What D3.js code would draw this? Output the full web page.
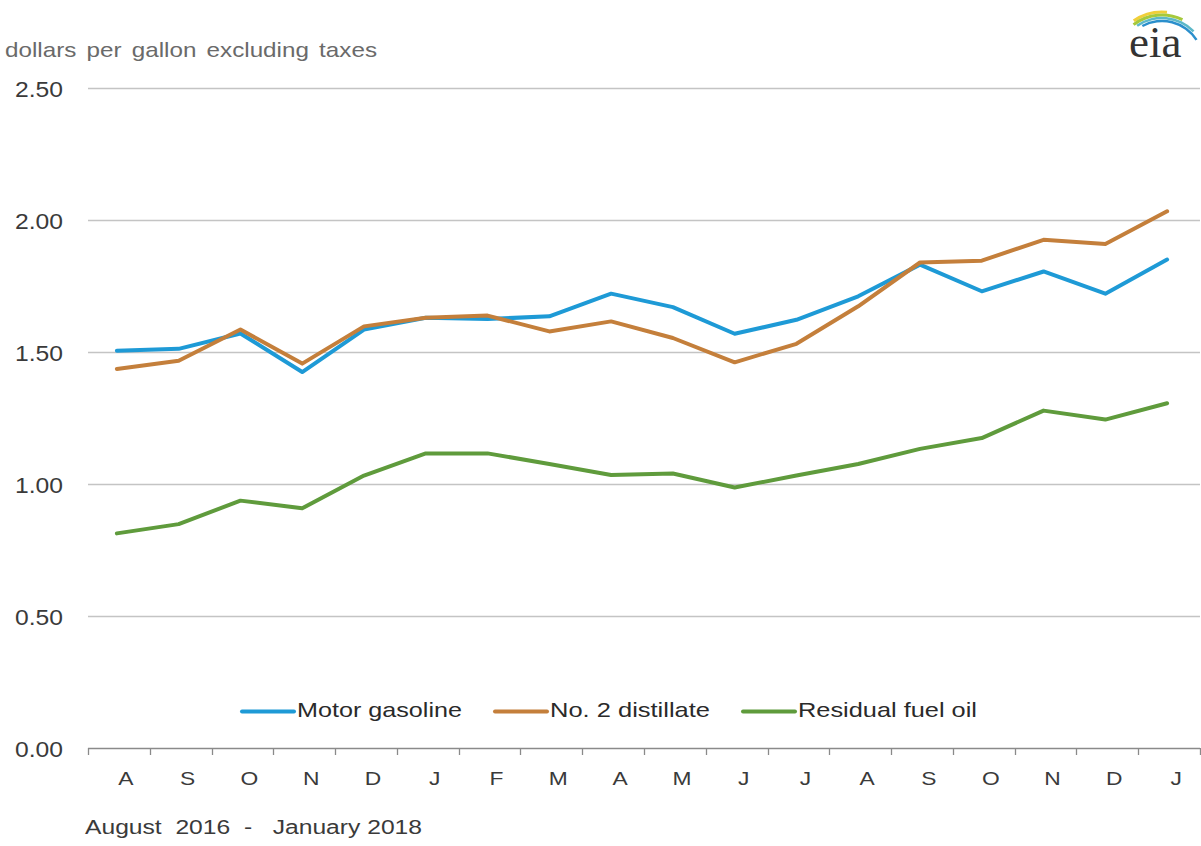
<!DOCTYPE html>
<html>
<head>
<meta charset="utf-8">
<script src="https://cdn.jsdelivr.net/npm/d3@7"></script>
<style>
  body { margin: 0; background: #fff; }
  text { font-family: "Liberation Sans", Arial, sans-serif; }
</style>
</head>
<body>
<div id="chart"></div>
<script>
// Month labels, August 2016 - January 2018
const months = ['A', 'S', 'O', 'N', 'D', 'J', 'F', 'M', 'A', 'M', 'J', 'J', 'A', 'S', 'O', 'N', 'D', 'J'];

// Series values (dollars per gallon excluding taxes)
const gasoline = [1.505, 1.512, 1.57, 1.424, 1.585, 1.63, 1.625, 1.635, 1.721, 1.67, 1.569, 1.622, 1.711, 1.831, 1.73, 1.805, 1.721, 1.85];
const distillate = [1.436, 1.467, 1.585, 1.456, 1.597, 1.63, 1.638, 1.578, 1.616, 1.553, 1.461, 1.531, 1.673, 1.839, 1.846, 1.925, 1.909, 2.033];
const residual = [0.813, 0.848, 0.937, 0.908, 1.032, 1.116, 1.116, 1.076, 1.034, 1.04, 0.987, 1.032, 1.076, 1.133, 1.174, 1.278, 1.244, 1.306];

const seriesNames = ['Motor gasoline', 'No. 2 distillate', 'Residual fuel oil'];
const yTicks = [0, 0.5, 1.0, 1.5, 2.0, 2.5];

const colours = ['#1e9ad6', '#c47f3b', '#5f9b3c'];

const width = 1201;
const height = 846;
const margin = { left: 88, right: 1, top: 88, bottom: 98 };

// The original picture is stretched sideways a bit, so widen text to match
function stretch(sel, factor) {
  sel.each(function () {
    const w = this.getComputedTextLength();
    d3.select(this)
      .attr('textLength', w * factor)
      .attr('lengthAdjust', 'spacingAndGlyphs');
  });
}

const svg = d3.select('#chart')
  .append('svg')
  .attr('width', width)
  .attr('height', height);

const x = d3.scaleBand()
  .domain(d3.range(months.length))
  .range([margin.left, 1200]);

const y = d3.scaleLinear()
  .domain([0, 2.5])
  .range([height - margin.bottom, margin.top]);

// Gridlines
svg.append('g')
  .selectAll('line')
  .data(yTicks.filter((d) => d > 0))
  .enter()
  .append('line')
  .attr('x1', margin.left)
  .attr('x2', 1200)
  .attr('y1', (d) => Math.round(y(d)) + 0.5)
  .attr('y2', (d) => Math.round(y(d)) + 0.5)
  .attr('stroke', '#c4c4c4')
  .attr('stroke-width', 1.3);

// Y tick labels
svg.append('g')
  .selectAll('text')
  .data(yTicks)
  .enter()
  .append('text')
  .attr('x', 63)
  .attr('y', (d) => y(d) + 9)
  .attr('text-anchor', 'end')
  .attr('font-size', '22px')
  .attr('fill', '#3a3a3a')
  .text((d) => d.toFixed(2))
  .attr('textLength', 48)
  .attr('lengthAdjust', 'spacingAndGlyphs');

// X axis line with ticks at band edges
const xAxis = svg.append('g');
xAxis.append('line')
  .attr('x1', margin.left)
  .attr('x2', 1200)
  .attr('y1', Math.round(y(0)) + 0.5)
  .attr('y2', Math.round(y(0)) + 0.5)
  .attr('stroke', '#8a8a8a')
  .attr('stroke-width', 1.3);

xAxis.selectAll('.tick')
  .data(d3.range(months.length + 1))
  .enter()
  .append('line')
  .attr('class', 'tick')
  .attr('x1', (i) => Math.round(margin.left + i * x.step()) + 0.5)
  .attr('x2', (i) => Math.round(margin.left + i * x.step()) + 0.5)
  .attr('y1', Math.round(y(0)))
  .attr('y2', Math.round(y(0)) + 7)
  .attr('stroke', '#8a8a8a')
  .attr('stroke-width', 1.3);

xAxis.selectAll('.month')
  .data(months)
  .enter()
  .append('text')
  .attr('class', 'month')
  .attr('x', (d, i) => x(i) + x.bandwidth() / 2 + 7)
  .attr('y', 785)
  .attr('text-anchor', 'middle')
  .attr('font-size', '19px')
  .attr('fill', '#3a3a3a')
  .text((d) => d)
  .call(stretch, 1.2);

// Lines
const line = d3.line()
  .x((d, i) => x(i) + x.bandwidth() / 2 - 2)
  .y((d) => y(d));

[gasoline, distillate, residual].forEach((values, k) => {
  svg.append('path')
    .datum(values)
    .attr('fill', 'none')
    .attr('stroke', colours[k])
    .attr('stroke-width', 4)
    .attr('stroke-linejoin', 'round')
    .attr('stroke-linecap', 'round')
    .attr('d', line);
});

// Legend
const legendX = [242, 495, 743];
const legendTextWidth = [165, 160, 179];
const legend = svg.append('g');
seriesNames.forEach((name, k) => {
  legend.append('line')
    .attr('x1', legendX[k])
    .attr('x2', legendX[k] + 52)
    .attr('y1', 711.5)
    .attr('y2', 711.5)
    .attr('stroke', colours[k])
    .attr('stroke-width', 4)
    .attr('stroke-linecap', 'round');
  legend.append('text')
    .attr('x', legendX[k] + 55)
    .attr('y', 717)
    .attr('font-size', '21px')
    .attr('fill', '#2a2a2a')
    .attr('textLength', legendTextWidth[k])
    .attr('lengthAdjust', 'spacingAndGlyphs')
    .text(name);
});

// Titles
svg.append('text')
  .attr('x', 5)
  .attr('y', 57)
  .attr('font-size', '21px')
  .attr('fill', '#6a6a6a')
  .attr('word-spacing', '3px')
  .attr('textLength', 372)
  .attr('lengthAdjust', 'spacingAndGlyphs')
  .text('dollars per gallon excluding taxes');

svg.append('text')
  .attr('x', 85)
  .attr('y', 834)
  .attr('font-size', '20px')
  .attr('fill', '#3a3a3a')
  .attr('xml:space', 'preserve')
  .attr('textLength', 337)
  .attr('lengthAdjust', 'spacingAndGlyphs')
  .text('August  2016  -   January 2018');

// eia logo: swoosh arcs above the letters
const logo = svg.append('g');
const arcs = [
  { r: 50, c: '#f0cf3a', w: 3, a0: -0.6, a1: 0.1 },
  { r: 47, c: '#a6c93c', w: 3, a0: -0.65, a1: 0.45 },
  { r: 44, c: '#5db8c8', w: 2.5, a0: -0.6, a1: 0.8 },
  { r: 41, c: '#2b8fcc', w: 2.5, a0: -0.5, a1: 1.0 },
];
arcs.forEach((a) => {
  const arc = d3.arc()
    .innerRadius(a.r - a.w / 2)
    .outerRadius(a.r + a.w / 2)
    .startAngle(a.a0)
    .endAngle(a.a1);
  logo.append('path')
    .attr('transform', 'translate(1162,62)')
    .attr('d', arc)
    .attr('fill', a.c);
});
logo.append('text')
  .attr('x', 1129)
  .attr('y', 57)
  .style('font-family', '"Liberation Serif", "DejaVu Serif", serif')
  .attr('font-size', '45px')
  .attr('fill', '#333333')
  .text('eia');
</script>
</body>
</html>
